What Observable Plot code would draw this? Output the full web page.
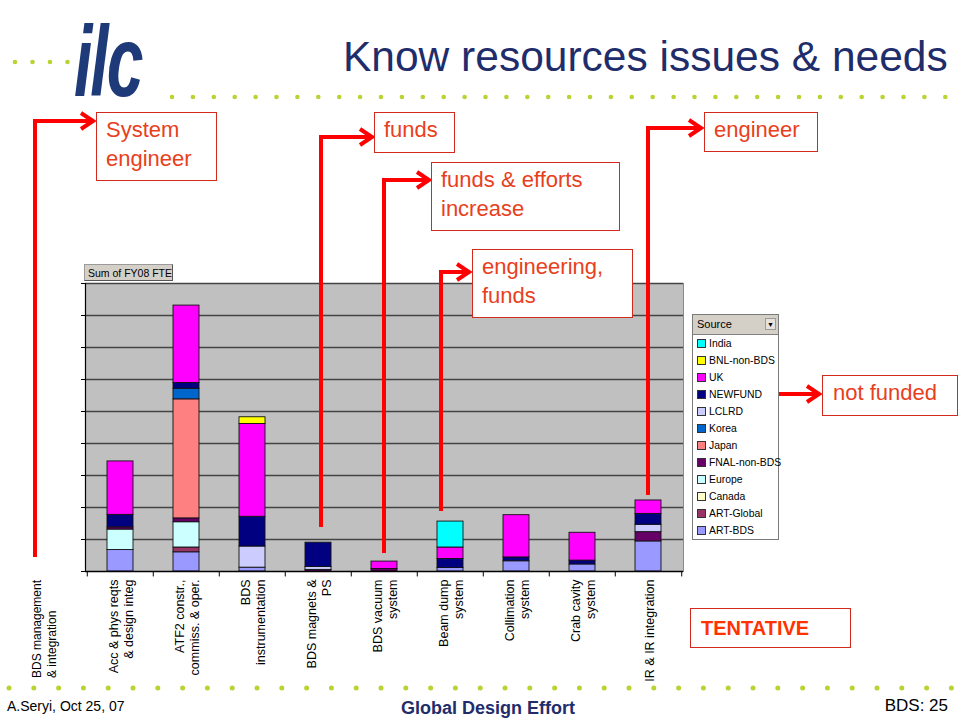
<!DOCTYPE html>
<html><head><meta charset="utf-8">
<script src="https://cdn.jsdelivr.net/npm/d3@7"></script>
<script src="https://cdn.jsdelivr.net/npm/@observablehq/plot@0.6"></script>
<style>
body{margin:0;background:#fff;font-family:"Liberation Sans",Arial,sans-serif;}
#slide{position:relative;width:960px;height:720px;overflow:hidden;background:#fff;}
#slide > *{position:absolute;left:0;top:0;}
.title{left:343px !important;top:33px !important;font-size:42.5px;color:#1f2d6b;white-space:nowrap;}
.box{border:1.5px solid #d42a1e;background:#fff;color:#e8401c;font-size:22px;line-height:29px;padding:2px 9px;box-sizing:border-box;}
.legend{border:1px solid #7a7a7a;background:#fff;font-size:10.4px;color:#000;box-sizing:border-box;}
.legend .hdr{height:19px;background:#d4d0c8;border-bottom:1px solid #808080;position:relative;line-height:19px;padding-left:4px;font-size:11px;}
.legend .dd{position:absolute;right:2px;top:3px;width:11px;height:12px;background:#e6e3dc;border:1px solid #9a9a9a;box-sizing:border-box;font-size:7px;line-height:11px;text-align:center;}
.legend .item{height:17px;line-height:17px;padding-left:4px;white-space:nowrap;}
.legend .sw{display:inline-block;width:7px;height:7px;border:1px solid #333;margin-right:3px;vertical-align:-1px;}
.btn{background:#d4d0c8;border:1px solid #9a9a9a;border-right-color:#555;border-bottom-color:#555;font-size:10.5px;line-height:14px;padding:1px 3px;box-sizing:border-box;white-space:nowrap;}
</style></head><body><div id="slide"></div>
<script>
// ---- data ----
const categories = [
  "Acc & phys reqts\n& design integ",
  "ATF2 constr.,\ncommiss. & oper.",
  "BDS\ninstrumentation",
  "BDS magnets &\nPS",
  "BDS vacuum\nsystem",
  "Beam dump\nsystem",
  "Collimation\nsystem",
  "Crab cavity\nsystem",
  "IR & IR integration"
];
// stacking order, bottom to top
const sources = ["ART-BDS","ART-Global","Canada","Europe","FNAL-non-BDS","Japan","Korea","LCLRD","NEWFUND","UK","BNL-non-BDS","India"];
const sourceColors = ["#9999ff","#993366","#ffffcc","#ccffff","#660066","#ff8080","#0066cc","#ccccff","#000080","#ff00ff","#ffff00","#00ffff"];
// FY08 FTE per category, one array per source
const artBDS     = [0.67, 0.60, 0.12, 0,    0,    0.11, 0.32, 0.22, 0.94];
const artGlobal  = [0,    0.15, 0,    0,    0,    0,    0,    0,    0];
const canada     = [0,    0,    0,    0,    0,    0,    0,    0,    0];
const europe     = [0.64, 0.79, 0,    0,    0,    0,    0,    0,    0];
const fnalNonBDS = [0.07, 0.12, 0,    0.05, 0.08, 0,    0,    0,    0.29];
const japan      = [0,    3.72, 0,    0,    0,    0,    0,    0,    0];
const korea      = [0,    0.33, 0,    0,    0,    0,    0,    0,    0];
const lclrd      = [0,    0,    0.66, 0.09, 0,    0,    0,    0,    0.23];
const newfund    = [0.39, 0.18, 0.93, 0.76, 0,    0.28, 0.12, 0.12, 0.34];
const uk         = [1.67, 2.42, 2.90, 0,    0.23, 0.36, 1.32, 0.87, 0.42];
const bnlNonBDS  = [0,    0,    0.21, 0,    0,    0,    0,    0,    0];
const india      = [0,    0,    0,    0,    0,    0.81, 0,    0,    0];
const seriesValues = [artBDS, artGlobal, canada, europe, fnalNonBDS, japan, korea, lclrd, newfund, uk, bnlNonBDS, india];
const gridValues = [1,2,3,4,5,6,7,8,9];
const yTicks = [0,1,2,3,4,5,6,7,8,9];

// ---- table for Plot ----
const rows = [];
categories.forEach((c, i) => sources.forEach((s, j) => {
  const v = seriesValues[j][i];
  if (v > 0) rows.push({category: c, source: s, value: v});
}));

const slide = document.getElementById("slide");
const FONT = "Liberation Sans, Arial, sans-serif";
const mL = 85, mR = 277, mT = 283, mB = 149;
const step = (960 - mL - mR) / categories.length;

const chart = Plot.plot({
  width: 960, height: 720,
  marginLeft: mL, marginRight: mR, marginTop: mT, marginBottom: mB,
  style: {background: "transparent", fontFamily: FONT, overflow: "visible"},
  x: {domain: categories, paddingInner: 0.6, paddingOuter: 0.3, axis: null},
  y: {domain: [0, 9], axis: null},
  color: {domain: sources, range: sourceColors},
  marks: [
    Plot.frame({fill: "#c0c0c0", stroke: "#8a8a8a"}),
    Plot.ruleY(gridValues, {stroke: "#444", strokeWidth: 1.3}),
    Plot.axisY({ticks: yTicks, tickSize: 4, tickFormat: () => "", label: null, stroke: "#000"}),
    Plot.barY(rows, {x: "category", y: "value", fill: "source", stroke: "#111", strokeWidth: 0.9}),
    Plot.ruleY([0], {stroke: "#000", strokeWidth: 1.3}),
    Plot.frame({anchor: "left", stroke: "#000", strokeWidth: 1.2}),
    Plot.ruleX(categories, {x: d => d, dx: -step / 2, y1: 0, y2: -0.17, stroke: "#000"}),
    Plot.ruleX(categories.slice(-1), {x: d => d, dx: step / 2, y1: 0, y2: -0.17, stroke: "#000"}),
    Plot.text(categories, {x: d => d, y: 0, text: d => d, rotate: -90, textAnchor: "end", lineAnchor: "middle",
      lineHeight: 1.25, fontSize: 12.5, dy: 8, fill: "#000", ariaLabel: "xlabels"})
  ]
});
slide.appendChild(chart);

// center the lines of each rotated label within its block
chart.querySelectorAll('g[aria-label="xlabels"] text').forEach(t => {
  const spans = t.querySelectorAll("tspan");
  if (spans.length < 2) return;
  let mx = 0;
  spans.forEach(s => mx = Math.max(mx, s.getComputedTextLength()));
  t.setAttribute("text-anchor", "middle");
  spans.forEach(s => s.setAttribute("x", -mx / 2));
});

// ---- decorations overlay ----
const dotColor = "#b8d432";
let dots = "";
for (let i = 0; i < 4; i++) dots += `<circle cx="${15 + i * 17.5}" cy="62" r="2.3" fill="${dotColor}"/>`;
for (let i = 0; i < 38; i++) dots += `<circle cx="${172 + i * 20.9}" cy="97" r="2.3" fill="${dotColor}"/>`;
for (let i = 0; i < 39; i++) dots += `<circle cx="${9 + i * 24.8}" cy="688" r="2.5" fill="${dotColor}"/>`;

function arrow(x, yb, yt, xh) {
  return `<path d="M${x},${yb} V${yt} H${xh}" fill="none" stroke="#ff0000" stroke-width="4" stroke-linejoin="miter"/>` +
    `<path d="M${xh - 12},${yt - 8} L${xh},${yt} L${xh - 12},${yt + 8}" fill="none" stroke="#ff0000" stroke-width="4"/>`;
}
const arrows = arrow(35, 557, 121, 93) + arrow(321, 527, 137, 372) + arrow(384, 553, 180, 429) +
  arrow(441, 511, 272, 469) + arrow(648, 495, 128, 701) +
  `<path d="M760,394 H819" stroke="#ff0000" stroke-width="4"/>` +
  `<path d="M807,386 L819,394 L807,402" fill="none" stroke="#ff0000" stroke-width="4"/>`;

const overlay = document.createElementNS("http://www.w3.org/2000/svg", "svg");
overlay.setAttribute("width", 960); overlay.setAttribute("height", 720);
overlay.style.pointerEvents = "none";
overlay.innerHTML = dots + arrows +
  `<text transform="translate(74,96) scale(0.66,1)" font-family="Liberation Sans Narrow, Liberation Sans, sans-serif" font-weight="bold" font-style="italic" font-size="100" fill="#1e3a78" letter-spacing="-3">ilc</text>` +
  `<g font-family="${FONT}" font-size="12" fill="#000">` +
  `<text transform="translate(41,678) rotate(-90)">BDS management</text>` +
  `<text transform="translate(56,678) rotate(-90)">&amp; integration</text></g>` +
  `<text x="7" y="711" font-family="${FONT}" font-size="14" fill="#000">A.Seryi, Oct 25, 07</text>` +
  `<text x="488" y="714" text-anchor="middle" font-family="${FONT}" font-size="18" font-weight="bold" fill="#1f2d6b">Global Design Effort</text>` +
  `<text x="948" y="711" text-anchor="end" font-family="${FONT}" font-size="17" fill="#000">BDS: 25</text>`;
slide.appendChild(overlay);

function el(cls, html, x, y, w, h) {
  const d = document.createElement("div");
  d.className = cls; d.innerHTML = html;
  d.style.left = x + "px"; d.style.top = y + "px";
  if (w) d.style.width = w + "px";
  if (h) d.style.height = h + "px";
  slide.appendChild(d);
  return d;
}
el("title", "Know resources issues &amp; needs");
el("btn", "Sum of FY08 FTE", 84, 264, 89, 17);
el("box", "System<br>engineer", 96, 112, 121, 69);
el("box", "funds", 374, 112, 81, 41);
el("box", "funds &amp; efforts<br>increase", 431, 162, 189, 69);
el("box", "engineering,<br>funds", 472, 249, 161, 69);
el("box", "engineer", 704, 112, 114, 40);
el("box", "not funded", 822, 375, 136, 41).style.paddingLeft = "10px";
const tent = el("box", "TENTATIVE", 690, 608, 161, 40);
tent.style.fontWeight = "bold"; tent.style.fontSize = "20px"; tent.style.color = "#ff3300";
tent.style.lineHeight = "34px"; tent.style.paddingLeft = "10px";

// legend (top entry = last in stack)
const legendItems = sources.map((s, i) => ({s, c: sourceColors[i]})).reverse();
el("legend",
  `<div class="hdr">Source<div class="dd">&#9660;</div></div>` +
  legendItems.map(d => `<div class="item"><span class="sw" style="background:${d.c}"></span>${d.s}</div>`).join(""),
  692, 314, 87, 226);
</script></body></html>
